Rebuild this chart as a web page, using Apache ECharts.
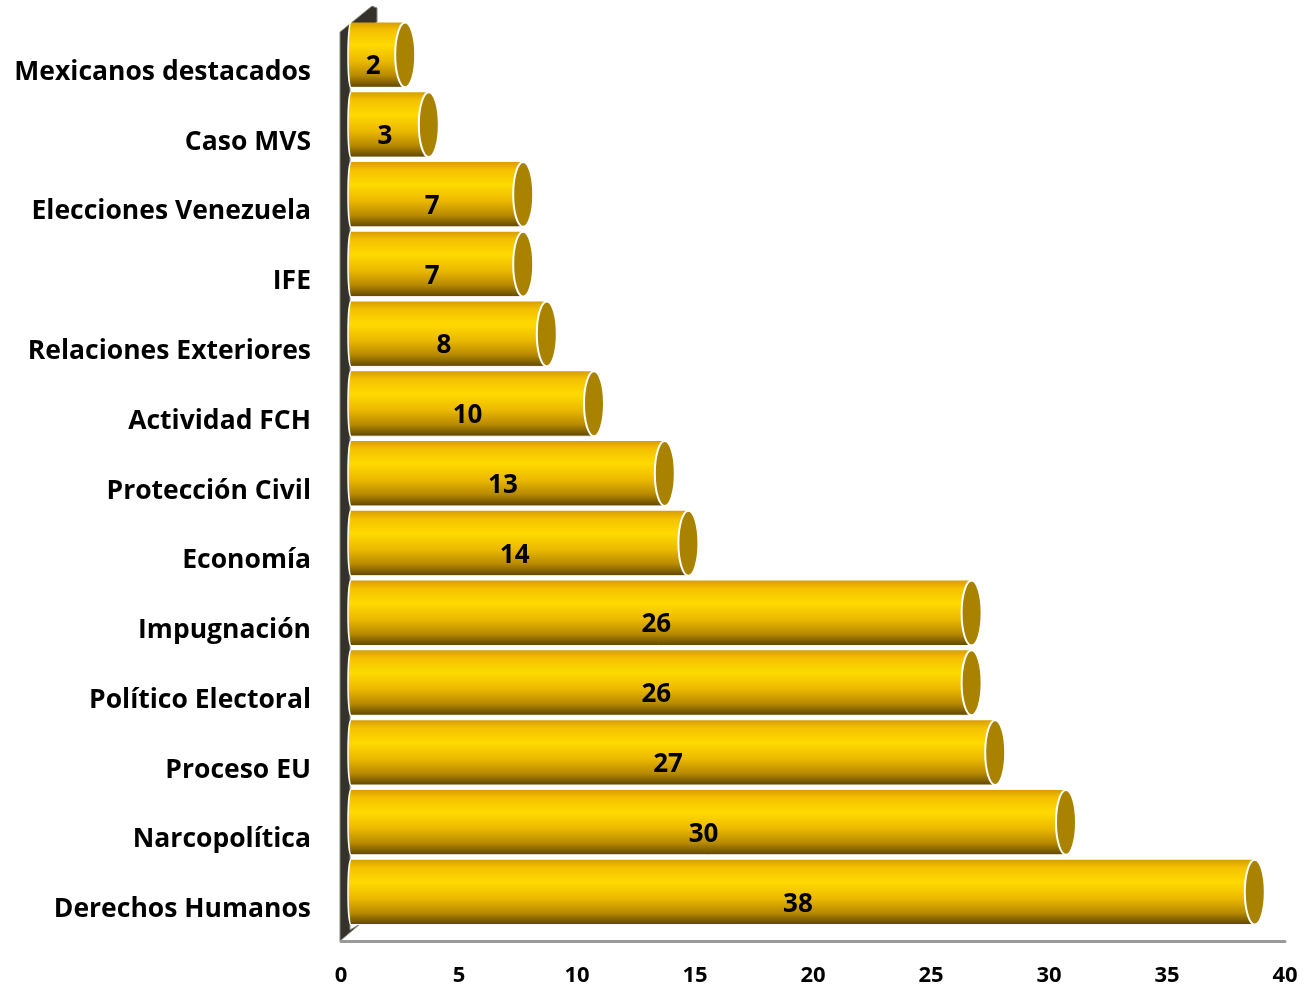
<!DOCTYPE html>
<html>
<head>
<meta charset="utf-8">
<script src="https://cdn.jsdelivr.net/npm/echarts@6/dist/echarts.min.js"></script>
<style>
  html, body { margin: 0; padding: 0; background: #fff; }
  #chart { width: 1305px; height: 990px; }
</style>
</head>
<body>
<div id="chart"></div>
<script>
// temas y número de menciones (de arriba hacia abajo)
const categories = [
  'Mexicanos destacados', 'Caso MVS', 'Elecciones Venezuela', 'IFE',
  'Relaciones Exteriores', 'Actividad FCH', 'Protección Civil', 'Economía',
  'Impugnación', 'Político Electoral', 'Proceso EU', 'Narcopolítica', 'Derechos Humanos'
];
const values = [2, 3, 7, 7, 8, 10, 13, 14, 26, 26, 27, 30, 38];
const xTicks = [0, 5, 10, 15, 20, 25, 30, 35, 40];

const chart = echarts.init(document.getElementById('chart'));

const bodyGradient = new echarts.graphic.LinearGradient(0, 0, 0, 1, [
  { offset: 0, color: '#D89E00' },
  { offset: 0.12, color: '#F4C000' },
  { offset: 0.35, color: '#FFDA00' },
  { offset: 0.6, color: '#EBB800' },
  { offset: 0.82, color: '#B88A00' },
  { offset: 1, color: '#5E4600' }
]);

// cilindro 3D: cuerpo + tapa elíptica
function renderCylinder(params, api) {
  const idx = api.value(0);
  const v = api.value(1);
  const start = api.coord([0, idx]);
  const end = api.coord([v, idx]);
  const band = api.size([0, 1])[1];
  const h = band * 0.93;
  const yc = start[1] - 14;
  const x0 = start[0] + 10;
  const x1 = end[0] + 17;
  const rx = 10;
  return {
    type: 'group',
    children: [
      {
        type: 'ellipse',
        shape: { cx: x0, cy: yc, rx: 3, ry: h / 2 },
        style: { fill: bodyGradient, stroke: '#fff', lineWidth: 1.5 }
      },
      {
        type: 'rect',
        shape: { x: x0, y: yc - h / 2, width: x1 - x0, height: h },
        style: { fill: bodyGradient }
      },
      {
        type: 'line',
        shape: { x1: x0, y1: yc + h / 2, x2: x1, y2: yc + h / 2 },
        style: { stroke: '#fff', lineWidth: 1 }
      },
      {
        type: 'ellipse',
        shape: { cx: x1, cy: yc, rx: rx, ry: h / 2 },
        style: { fill: '#A98200', stroke: '#fff', lineWidth: 2 }
      },
      {
        type: 'text',
        style: {
          text: String(v),
          x: (x0 + x1) / 2 - 5,
          y: yc + 12,
          align: 'center',
          verticalAlign: 'middle',
          font: 'bold 26px "Open Sans", sans-serif',
          fill: '#000'
        }
      }
    ]
  };
}

const option = {
  animation: false,
  backgroundColor: '#fff',
  grid: { left: 341, right: 20, top: 34, bottom: 49, containLabel: false },
  xAxis: {
    type: 'value',
    min: xTicks[0],
    max: xTicks[xTicks.length - 1],
    interval: 5,
    splitLine: { show: false },
    axisTick: { show: false },
    axisLine: { show: true, lineStyle: { color: '#9a9a9a', width: 3 } },
    axisLabel: {
      margin: 24,
      color: '#000',
      fontWeight: 'bold',
      fontSize: 22,
      fontFamily: 'Open Sans'
    }
  },
  yAxis: {
    type: 'category',
    data: categories,
    inverse: true,
    axisLine: { show: false },
    axisTick: { show: false },
    axisLabel: {
      margin: 30,
      formatter: (v) => '{c|' + v + '}',
      rich: {
        c: {
          padding: [7, 0, 0, 0],
          color: '#000',
          fontWeight: 'bold',
          fontSize: 26.5,
          fontFamily: 'Open Sans'
        }
      }
    }
  },
  graphic: [
    {
      type: 'polygon',
      z: 0,
      shape: {
        points: [[340, 941], [340, 32], [372, 6], [377, 8], [377, 22], [350, 40], [350, 930], [360, 924]]
      },
      style: { fill: '#34322a', stroke: '#8a8a80', lineWidth: 1 }
    }
  ],
  series: [
    {
      type: 'custom',
      z: 5,
      renderItem: renderCylinder,
      encode: { x: 1, y: 0 },
      data: values.map((v, i) => [i, v])
    }
  ]
};

chart.setOption(option);
</script>
</body>
</html>
